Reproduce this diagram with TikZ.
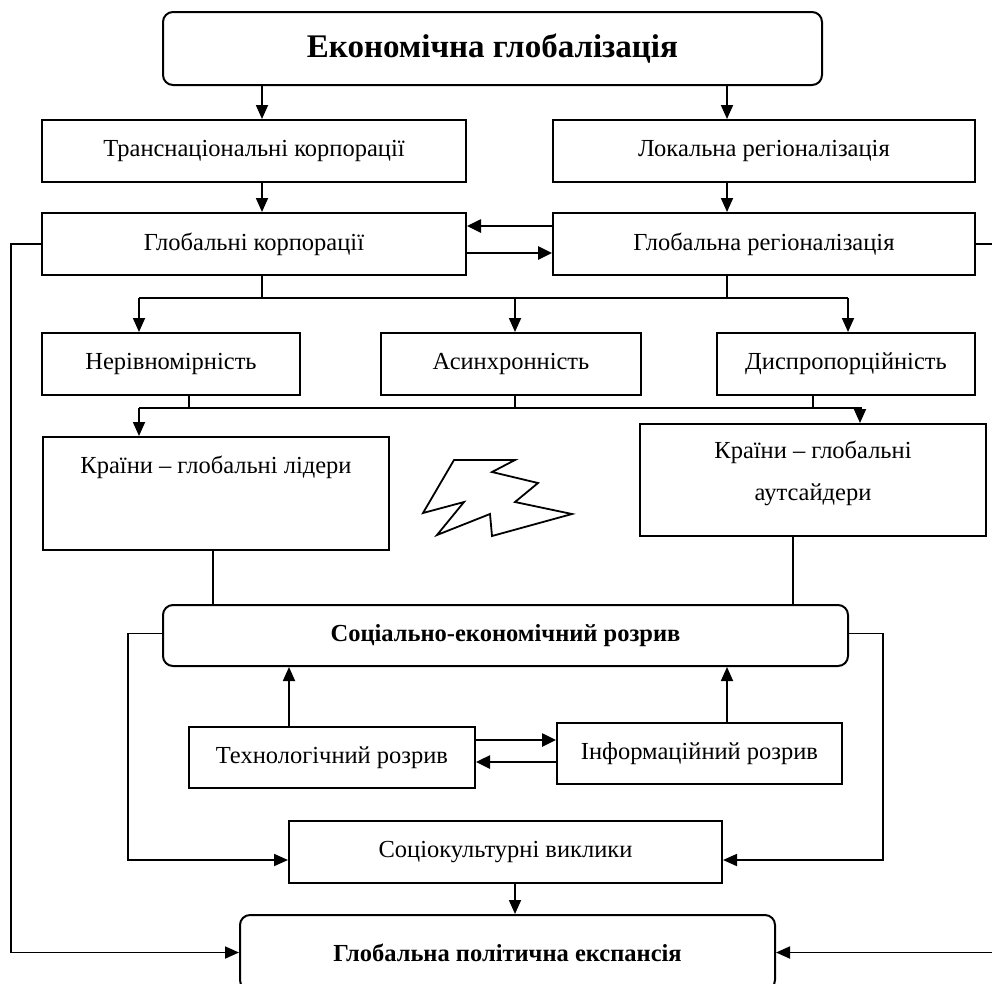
\documentclass[tikz,border=0pt]{standalone}
\usepackage{fontspec}
\setmainfont{Liberation Serif}
\usetikzlibrary{arrows.meta,calc}
\begin{document}
\begin{tikzpicture}[x=1pt,y=-1pt,
  box/.style={draw,line width=2pt,inner sep=0pt,font=\fontsize{24.5}{29}\selectfont},
  rbox/.style={box,rounded corners=10pt},
  txt/.style={inner sep=0pt,font=\fontsize{24.5}{29}\selectfont},
  arr/.style={line width=1.8pt,-{Triangle[length=14pt,width=12pt]}},
  ln/.style={line width=1.8pt},
  darr/.style={line width=2.6pt,-{Triangle[length=14pt,width=13pt]}}]
\useasboundingbox (0,0) rectangle (992,983);
% nodes
\node[rbox,minimum width=659,minimum height=73,font=\fontsize{33}{38}\selectfont\bfseries] (top) at (492.5,48.5) {Економічна глобалізація};
\node[box,minimum width=424,minimum height=62] (tnk) at (254,151) {Транснаціональні корпорації};
\node[box,minimum width=422,minimum height=62] (lr) at (764,151) {Локальна регіоналізація};
\node[box,minimum width=424,minimum height=62] (gk) at (254,244) {Глобальні корпорації};
\node[box,minimum width=422,minimum height=62] (gr) at (764,244) {Глобальна регіоналізація};
\node[box,minimum width=258,minimum height=62] (ner) at (171,364) {Нерівномірність};
\node[box,minimum width=260,minimum height=62] (asyn) at (511,364) {Асинхронність};
\node[box,minimum width=258,minimum height=62] (disp) at (846,364) {Диспропорційність};
\node[box,minimum width=346,minimum height=113] (lid) at (216,493.5) {};
\node[txt] (lidt) at (216,467) {Країни – глобальні лідери};
\node[box,minimum width=346,minimum height=112] (out) at (813,480) {};
\node[txt,align=center] (outt) at (813,473) {Країни – глобальні\\[13pt]аутсайдери};
\node[rbox,minimum width=685,minimum height=61,font=\fontsize{24.5}{29}\selectfont\bfseries] (ser) at (505.5,635.5) {Соціально-економічний розрив};
\node[box,minimum width=286,minimum height=61] (tech) at (332,757.5) {Технологічний розрив};
\node[box,minimum width=285,minimum height=61] (info) at (699.5,753.5) {Інформаційний розрив};
\node[box,minimum width=433,minimum height=62] (soc) at (505.5,852) {Соціокультурні виклики};
\node[rbox,minimum width=535,minimum height=75,font=\fontsize{24.5}{29}\selectfont\bfseries] (gpe) at (507.5,952.5) {Глобальна політична експансія};
% zigzag
\draw[line width=1.8pt,line join=miter] (454,460) -- (515,460) -- (492,472) -- (538,483) -- (515,502) -- (572,514) -- (492,536) -- (490,514) -- (437,535) -- (464,502) -- (423,513) -- cycle;
% coordinates
\coordinate (cL) at (262,0);
\coordinate (cR) at (727,0);
\coordinate (h1L) at (139,298);
\coordinate (h1M) at (515,298);
\coordinate (h1R) at (848,298);
\coordinate (h2L) at (139,408);
\coordinate (h2R) at (862,408);
\coordinate (x189) at (189,0);
\coordinate (x515) at (515,0);
\coordinate (x813) at (813,0);
\coordinate (x860) at (860,0);
\coordinate (x213) at (213,0);
\coordinate (x793) at (793,0);
\coordinate (x289) at (289,0);
\coordinate (yA) at (0,226);
\coordinate (yB) at (0,253);
\coordinate (yC) at (0,740);
\coordinate (yD) at (0,762);
% connectors
\draw[arr] (top.south -| cL) -- (tnk.north -| cL);
\draw[arr] (top.south -| cR) -- (lr.north -| cR);
\draw[arr] (tnk.south -| cL) -- (gk.north -| cL);
\draw[arr] (lr.south -| cR) -- (gr.north -| cR);
\draw[darr] (gr.west |- yA) -- (gk.east |- yA);
\draw[darr] (gk.east |- yB) -- (gr.west |- yB);
\draw[arr] (gk.west) -- ++(-30,0) |- (gpe.west);
\draw[arr] (gr.east) -- ++(17,0) |- (gpe.east);
\draw[ln] (gk.south -| cL) -- (h1L -| cL);
\draw[ln] (gr.south -| cR) -- (h1L -| cR);
\draw[ln] (h1L) -- (h1R);
\draw[arr] (h1L) -- (ner.north -| h1L);
\draw[arr] (h1M) -- (asyn.north -| h1M);
\draw[arr] (h1R) -- (disp.north -| h1R);
\draw[ln] (ner.south -| x189) -- (h2L -| x189);
\draw[ln] (asyn.south -| x515) -- (h2L -| x515);
\draw[ln] (disp.south -| x813) -- (h2L -| x813);
\draw[ln] (h2L) -- (h2R);
\draw[arr] (h2L) -- (lid.north -| h2L);
\draw[arr] (h2L -| x860) -- (out.north -| x860);
\draw[ln] (lid.south -| x213) -- (ser.north -| x213);
\draw[ln] (out.south -| x793) -- (ser.north -| x793);
\draw[arr] ([yshift=2pt]ser.west) -- ++(-34,0) |- ([yshift=-8pt]soc.west);
\draw[arr] ([yshift=2pt]ser.east) -- ++(34,0) |- ([yshift=-8pt]soc.east);
\draw[arr] (tech.north -| x289) -- (ser.south -| x289);
\draw[arr] (info.north -| cR) -- (ser.south -| cR);
\draw[darr] (tech.east |- yC) -- (info.west |- yC);
\draw[darr] (info.west |- yD) -- (tech.east |- yD);
\draw[arr] (soc.south -| x515) -- (gpe.north -| x515);
\end{tikzpicture}
\end{document}
